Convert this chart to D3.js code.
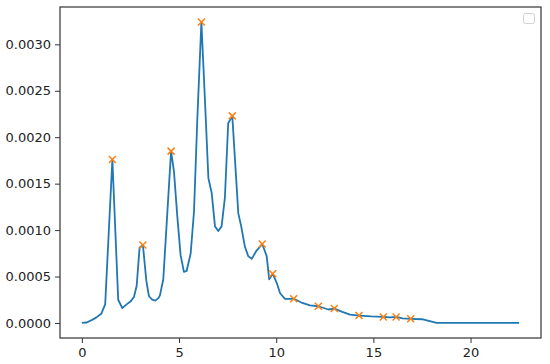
<!DOCTYPE html>
<html>
<head>
<meta charset="utf-8">
<script src="https://cdn.jsdelivr.net/npm/d3@7"></script>
<style>
  body { margin: 0; background: #fff; }
  .axis text { font-family: "DejaVu Sans", sans-serif; font-size: 13px; fill: #222; }
  .axis path, .axis line { stroke: #333; }
</style>
</head>
<body>
<div id="chart"></div>
<script>

// Spectrum values
var xValues = [0, 0.25, 0.5, 0.75, 1.0, 1.2, 1.57, 1.87, 2.08, 2.3, 2.5, 2.68,
               2.82, 2.97, 3.14, 3.32, 3.45, 3.62, 3.78, 3.95, 4.02, 4.19,
               4.59, 4.74, 4.91, 5.08, 5.25, 5.39, 5.6, 5.77, 5.94, 6.15,
               6.34, 6.51, 6.68, 6.85, 7.02, 7.19, 7.36, 7.53, 7.74, 8.05,
               8.2, 8.39, 8.56, 8.74, 8.96, 9.28, 9.51, 9.64, 9.82, 10.03,
               10.2, 10.45, 10.9, 11.3, 11.74, 12.17, 12.68, 12.99, 13.4,
               13.8, 14.26, 14.9, 15.51, 15.85, 16.17, 16.5, 16.92, 17.5,
               17.9, 18.26, 22.5];

var yValues = [0, 0.000005, 0.00003, 0.00006, 0.0001, 0.0002, 0.00176,
               0.00025, 0.00016, 0.0002, 0.00023, 0.00028, 0.0004, 0.00081,
               0.00084, 0.00045, 0.00029, 0.00025, 0.00024, 0.00027, 0.0003,
               0.00047, 0.00185, 0.00163, 0.00115, 0.00073, 0.00055, 0.00056,
               0.00075, 0.0012, 0.00219, 0.00324, 0.00237, 0.00156, 0.0014,
               0.00104, 0.00099, 0.00104, 0.00135, 0.00215, 0.00223, 0.00118,
               0.00104, 0.00082, 0.00072, 0.00069, 0.00077, 0.00085, 0.00072,
               0.00047, 0.00053, 0.00043, 0.00032, 0.00026, 0.00026, 0.00022,
               0.00019, 0.00018, 0.000145, 0.000155, 0.00012, 0.00009,
               0.00008, 0.00007, 0.000065, 0.00006, 0.000065, 0.00005,
               0.000045, 0.00004, 0.00002, 0, 0];

// Positions (indices into the arrays above) of the marked peaks
var peakIndex = [6, 14, 22, 31, 40, 47, 50, 54, 57, 59, 62, 64, 66, 68];

// Tick values
var xTicks = [0, 5, 10, 15, 20];
var yTicks = [0, 0.0005, 0.001, 0.0015, 0.002, 0.0025, 0.003];

// Chart size and plot area
var width = 550, height = 364;
var plot = {left: 60, top: 7, right: 541, bottom: 338};

var svg = d3.select("#chart")
            .append("svg")
            .attr("width", width)
            .attr("height", height);

// Scales with 5% margins like matplotlib
var xMin = d3.min(xValues), xMax = d3.max(xValues);
var yMin = d3.min(yValues), yMax = d3.max(yValues);
var xPad = (xMax - xMin) * 0.05, yPad = (yMax - yMin) * 0.05;

var x = d3.scaleLinear()
          .domain([xMin - xPad, xMax + xPad])
          .range([plot.left, plot.right]);

var y = d3.scaleLinear()
          .domain([yMin - yPad, yMax + yPad])
          .range([plot.bottom, plot.top]);

// Axes
svg.append("g")
   .attr("class", "axis")
   .attr("transform", "translate(0," + plot.bottom + ")")
   .call(d3.axisBottom(x).tickValues(xTicks).tickSize(5).tickPadding(5)
                         .tickFormat(d3.format("d")))
   .call(function(g) { g.select(".domain").remove(); });

svg.append("g")
   .attr("class", "axis")
   .attr("transform", "translate(" + plot.left + ",0)")
   .call(d3.axisLeft(y).tickValues(yTicks).tickSize(5).tickPadding(4)
                       .tickFormat(d3.format(".4f")))
   .call(function(g) { g.select(".domain").remove(); });

// Line
var line = d3.line()
    .x(function(d, i) { return x(xValues[i]); })
    .y(function(d) { return y(d); });

svg.append("path")
   .datum(yValues)
   .attr("fill", "none")
   .attr("stroke", "#1f77b4")
   .attr("stroke-width", 1.8)
   .attr("stroke-linejoin", "round")
   .attr("d", line);

// Peak markers
var s = 3.5;
svg.append("g")
   .selectAll("path")
   .data(peakIndex)
   .enter()
   .append("path")
   .attr("d", function(i) {
     var cx = x(xValues[i]), cy = y(yValues[i]);
     return "M" + (cx - s) + "," + (cy - s) + "L" + (cx + s) + "," + (cy + s) +
            "M" + (cx - s) + "," + (cy + s) + "L" + (cx + s) + "," + (cy - s);
   })
   .attr("stroke", "#ff7f0e")
   .attr("stroke-width", 1.5);

// Frame
svg.append("rect")
   .attr("x", plot.left)
   .attr("y", plot.top)
   .attr("width", plot.right - plot.left)
   .attr("height", plot.bottom - plot.top)
   .attr("fill", "none")
   .attr("stroke", "#333")
   .attr("stroke-width", 1.2);

// Empty legend box
svg.append("rect")
   .attr("x", 523.5)
   .attr("y", 13.5)
   .attr("width", 11)
   .attr("height", 10)
   .attr("rx", 2)
   .attr("fill", "#fff")
   .attr("stroke", "#d0d0d0");

</script>
</body>
</html>
